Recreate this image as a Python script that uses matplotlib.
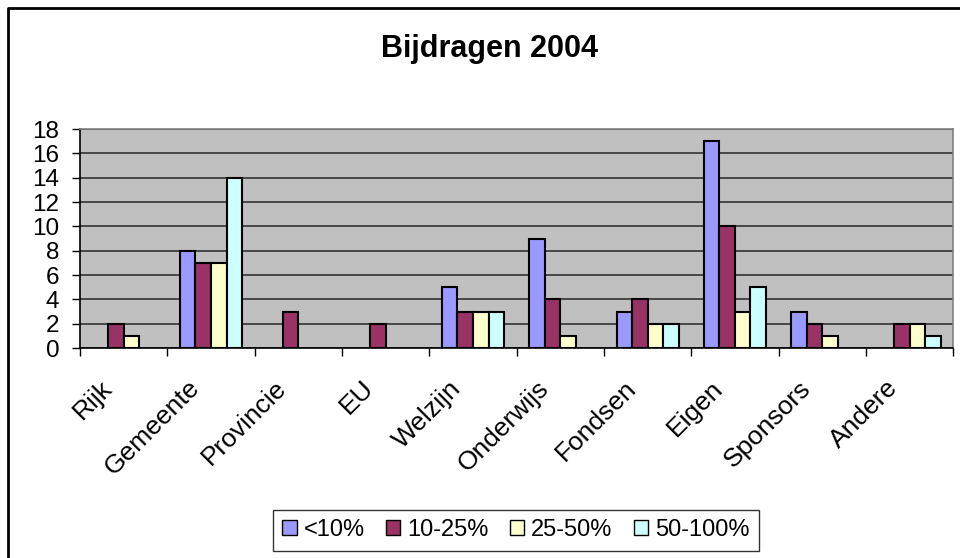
import numpy as np
import matplotlib.pyplot as plt
from matplotlib.lines import Line2D
from matplotlib.transforms import ScaledTranslation

categories = ["Rijk", "Gemeente", "Provincie", "EU", "Welzijn",
              "Onderwijs", "Fondsen", "Eigen", "Sponsors", "Andere"]
series = ["<10%", "10-25%", "25-50%", "50-100%"]
lt10 = [0, 8, 0, 0, 5, 9, 3, 17, 3, 0]
p10_25 = [2, 7, 3, 2, 3, 4, 4, 10, 2, 2]
p25_50 = [1, 7, 0, 0, 3, 1, 2, 3, 1, 2]
p50_100 = [0, 14, 0, 0, 3, 0, 2, 5, 0, 1]
colors = ["#9999FF", "#993366", "#FFFFCC", "#CCFFFF"]

plt.rcParams['font.family'] = ['Liberation Sans', 'DejaVu Sans']

fig = plt.figure(figsize=(9.6, 5.58), dpi=100)
ax = fig.add_axes([0.0833, 0.3763, 0.9097, 0.3925])
ax.set_facecolor("#C0C0C0")

x = np.arange(len(categories)) + 0.5
w = 0.178
for i, (vals, name) in enumerate(zip([lt10, p10_25, p25_50, p50_100], series)):
    vals = np.array(vals, dtype=float)
    pos = x + (i - 1.5) * w
    mask = vals > 0  # Excel draws nothing for zero
    ax.bar(pos[mask], vals[mask], width=w, color=colors[i],
           edgecolor="black", linewidth=1.5, zorder=3)
    ax.bar([np.nan], [np.nan], width=w, color=colors[i], edgecolor="black",
           linewidth=1, label=name)

ax.set_xlim(0, len(categories))
ax.set_ylim(0, 18)
ax.set_yticks(range(0, 19, 2))
ax.yaxis.grid(True, color="#333333", linewidth=1.2, zorder=1)
ax.set_xticks(np.arange(len(categories) + 1))
ax.set_xticklabels([])
ax.set_xticks(x, minor=True)
ax.set_xticklabels(categories, minor=True, rotation=45, ha="right",
                   va="top", rotation_mode="anchor", fontsize=19)
ax.tick_params(axis="x", which="minor", length=0, pad=20)
ax.tick_params(axis="x", which="major", length=6, width=1, direction="out")
ax.tick_params(axis="y", labelsize=17.5, length=6, width=1, pad=9)
for lab in ax.get_xticklabels(minor=True):
    lab.set_transform(lab.get_transform() +
                      ScaledTranslation(-0.24, 0, fig.dpi_scale_trans))
for s in ["left", "bottom"]:
    ax.spines[s].set_color("black")
    ax.spines[s].set_linewidth(1.2)
for s in ["top", "right"]:
    ax.spines[s].set_color("#808080")
    ax.spines[s].set_linewidth(1.2)

fig.text(0.51, 0.912, "Bijdragen 2004", ha="center", va="center",
         fontsize=22, fontweight="bold")

leg = fig.legend(loc="center", bbox_to_anchor=(0.5375, 0.05), ncol=4,
                 fontsize=17, frameon=True, fancybox=False, handlelength=0.6,
                 handleheight=0.6, handletextpad=0.3, columnspacing=0.9,
                 borderpad=0.4)
leg.get_frame().set_edgecolor("black")
leg.get_frame().set_linewidth(1)

# outer chart frame (only top and left edges fall inside the image)
fig.add_artist(Line2D([8 / 960, 8 / 960, 1], [0, 1 - 8 / 558, 1 - 8 / 558],
                      transform=fig.transFigure, color="black", linewidth=2))

fig.savefig("out.png", dpi=100)
